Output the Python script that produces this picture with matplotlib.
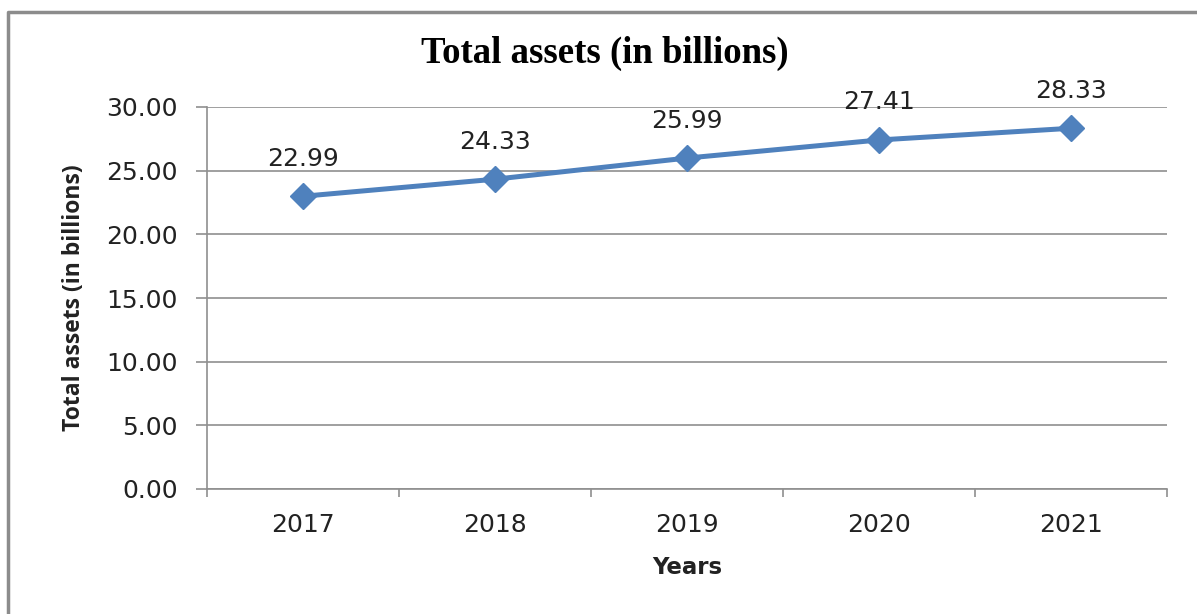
import matplotlib.pyplot as plt
from matplotlib.lines import Line2D

# --- data
years = ["2017", "2018", "2019", "2020", "2021"]
total_assets = [22.99, 24.33, 25.99, 27.41, 28.33]
y_ticks = [0, 5, 10, 15, 20, 25, 30]

LINE_COLOR = "#4F81BD"
GRID_COLOR = "#8F8F8F"
TEXT_COLOR = "#222222"
FONT = "DejaVu Sans"

W, H = 1197, 614
fig = plt.figure(figsize=(W / 100, H / 100), dpi=100)

# --- plot area in pixel coordinates
left, right, top, bottom = 207, 1167, 107, 489
ax = fig.add_axes([left / W, 1 - bottom / H, (right - left) / W, (bottom - top) / H])

x = list(range(len(years)))
ax.plot(x, total_assets, color=LINE_COLOR, linewidth=3.6, marker="D",
        markersize=13, markeredgecolor=LINE_COLOR, zorder=3, clip_on=False)

for xi, v in zip(x, total_assets):
    ax.annotate(f"{v:.2f}", (xi, v), xytext=(0, 27), textcoords="offset points",
                ha="center", va="center", fontsize=18, family=FONT, color=TEXT_COLOR)

ax.set_xlim(-0.5, len(years) - 0.5)
ax.set_ylim(0, 30)
ax.set_yticks(y_ticks)
ax.set_yticklabels([f"{t:.2f}" for t in y_ticks], family=FONT, fontsize=18, color=TEXT_COLOR)
ax.set_xticks(x)
ax.set_xticklabels(years, family=FONT, fontsize=18, color=TEXT_COLOR)

# category boundaries carry the x tick marks
ax.set_xticks([i - 0.5 for i in range(len(years) + 1)], minor=True)
ax.tick_params(axis="x", which="major", length=0, pad=17)
ax.tick_params(axis="x", which="minor", length=6, width=1.2, color=GRID_COLOR)
ax.tick_params(axis="y", length=8, width=1.2, color=GRID_COLOR, pad=13)

ax.grid(axis="y", color=GRID_COLOR, linewidth=1.2)
ax.set_axisbelow(True)
for side in ("top", "right"):
    ax.spines[side].set_visible(False)
for side in ("left", "bottom"):
    ax.spines[side].set_color(GRID_COLOR)
    ax.spines[side].set_linewidth(1.2)

ax.set_xlabel("Years", family=FONT, fontsize=16.5, fontweight="bold", color=TEXT_COLOR)
ax.xaxis.set_label_coords(0.5, -(568 - 489) / (bottom - top))
ax.xaxis.label.set_va("center")
ax.set_ylabel("Total assets (in billions)", family="Open Sans", fontsize=16.5,
              fontweight="bold", color=TEXT_COLOR)
ax.yaxis.set_label_coords(-(207 - 86) / (right - left), 0.5)

fig.text(605 / W, 1 - 63 / H, "Total assets (in billions)", ha="center", va="baseline",
         family="Liberation Serif", fontsize=26.5, fontweight="bold", color="black")

# chart frame (left and top edges)
fig.add_artist(Line2D([8 / W, 8 / W, 1.0], [0.0, 1 - 12 / H, 1 - 12 / H],
                      transform=fig.transFigure, color="#8C8C8C", linewidth=2.5))

fig.savefig("out.png", dpi=100, facecolor="white")
